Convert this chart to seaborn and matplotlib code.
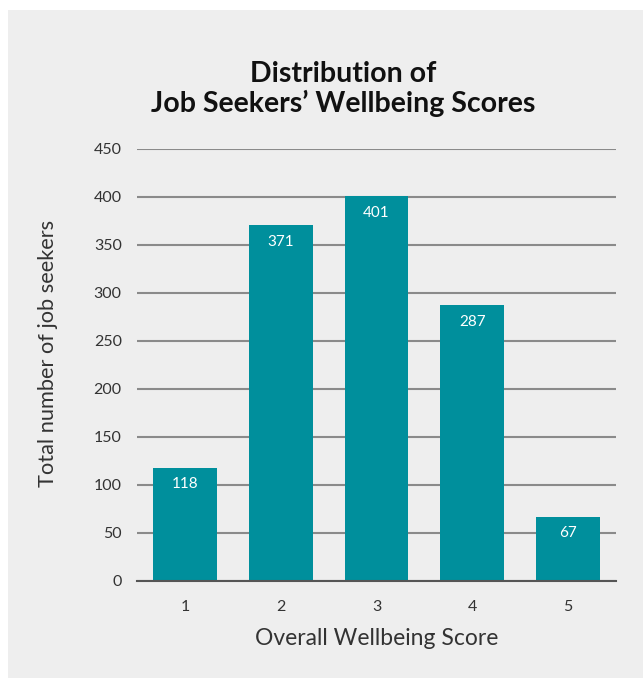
import matplotlib
matplotlib.use("Agg")
import matplotlib.pyplot as plt
import seaborn as sns
import pandas as pd
from matplotlib.patches import Rectangle

scores = ["1", "2", "3", "4", "5"]
counts = [118, 371, 401, 287, 67]
yticks = [0, 50, 100, 150, 200, 250, 300, 350, 400, 450]

sns.set_theme(style="white")
plt.rcParams['font.family'] = ['Lato', 'DejaVu Sans']

W, H = 643, 678
fig = plt.figure(figsize=(W / 100, H / 100), dpi=100)
fig.patch.set_facecolor("white")
fig.patches.append(Rectangle((8 / W, 0), 1 - 8 / W, 1 - 10 / H,
                             transform=fig.transFigure, facecolor="#eeeeee",
                             edgecolor="none", zorder=-10))

ax = fig.add_axes([137 / W, 1 - 581 / H, (616 - 137) / W, (581 - 149) / H])
ax.set_facecolor("none")

df = pd.DataFrame({"score": scores, "count": counts})
sns.barplot(data=df, x="score", y="count", color="#008f9c", saturation=1,
            width=0.667, linewidth=0, ax=ax, zorder=3)

ax.set_xlim(-0.5, 4.5)
ax.set_ylim(0, 450)
ax.set_yticks(yticks)
ax.yaxis.grid(True, color="#8a8a8a", linewidth=1.5)
ax.set_axisbelow(True)
for s in ["top", "right", "left"]:
    ax.spines[s].set_visible(False)
ax.spines["bottom"].set_color("#555555")
ax.spines["bottom"].set_linewidth(1.5)
ax.spines["bottom"].set_zorder(4)

ax.tick_params(axis="both", length=0, labelsize=11.5, labelcolor="#333333")
ax.tick_params(axis="y", pad=11)
ax.tick_params(axis="x", pad=14)

for i, v in enumerate(counts):
    ax.annotate(str(v), (i, v), xytext=(0, -12), textcoords="offset points",
                ha="center", va="center", color="white", fontsize=11, zorder=5)

ax.set_xlabel("Overall Wellbeing Score", fontsize=16.5, color="#333333", labelpad=10)
ax.set_ylabel("Total number of job seekers", fontsize=15.7, color="#333333")
ax.yaxis.set_label_coords((58 - 137) / 479, (581 - 353) / 432)

fig.text(343 / W, 1 - 89 / H, "Distribution of\nJob Seekers\u2019 Wellbeing Scores",
         ha="center", va="center", fontsize=20.5, fontweight="bold", color="#111111",
         linespacing=1.15)

fig.savefig("out.png", dpi=100)
